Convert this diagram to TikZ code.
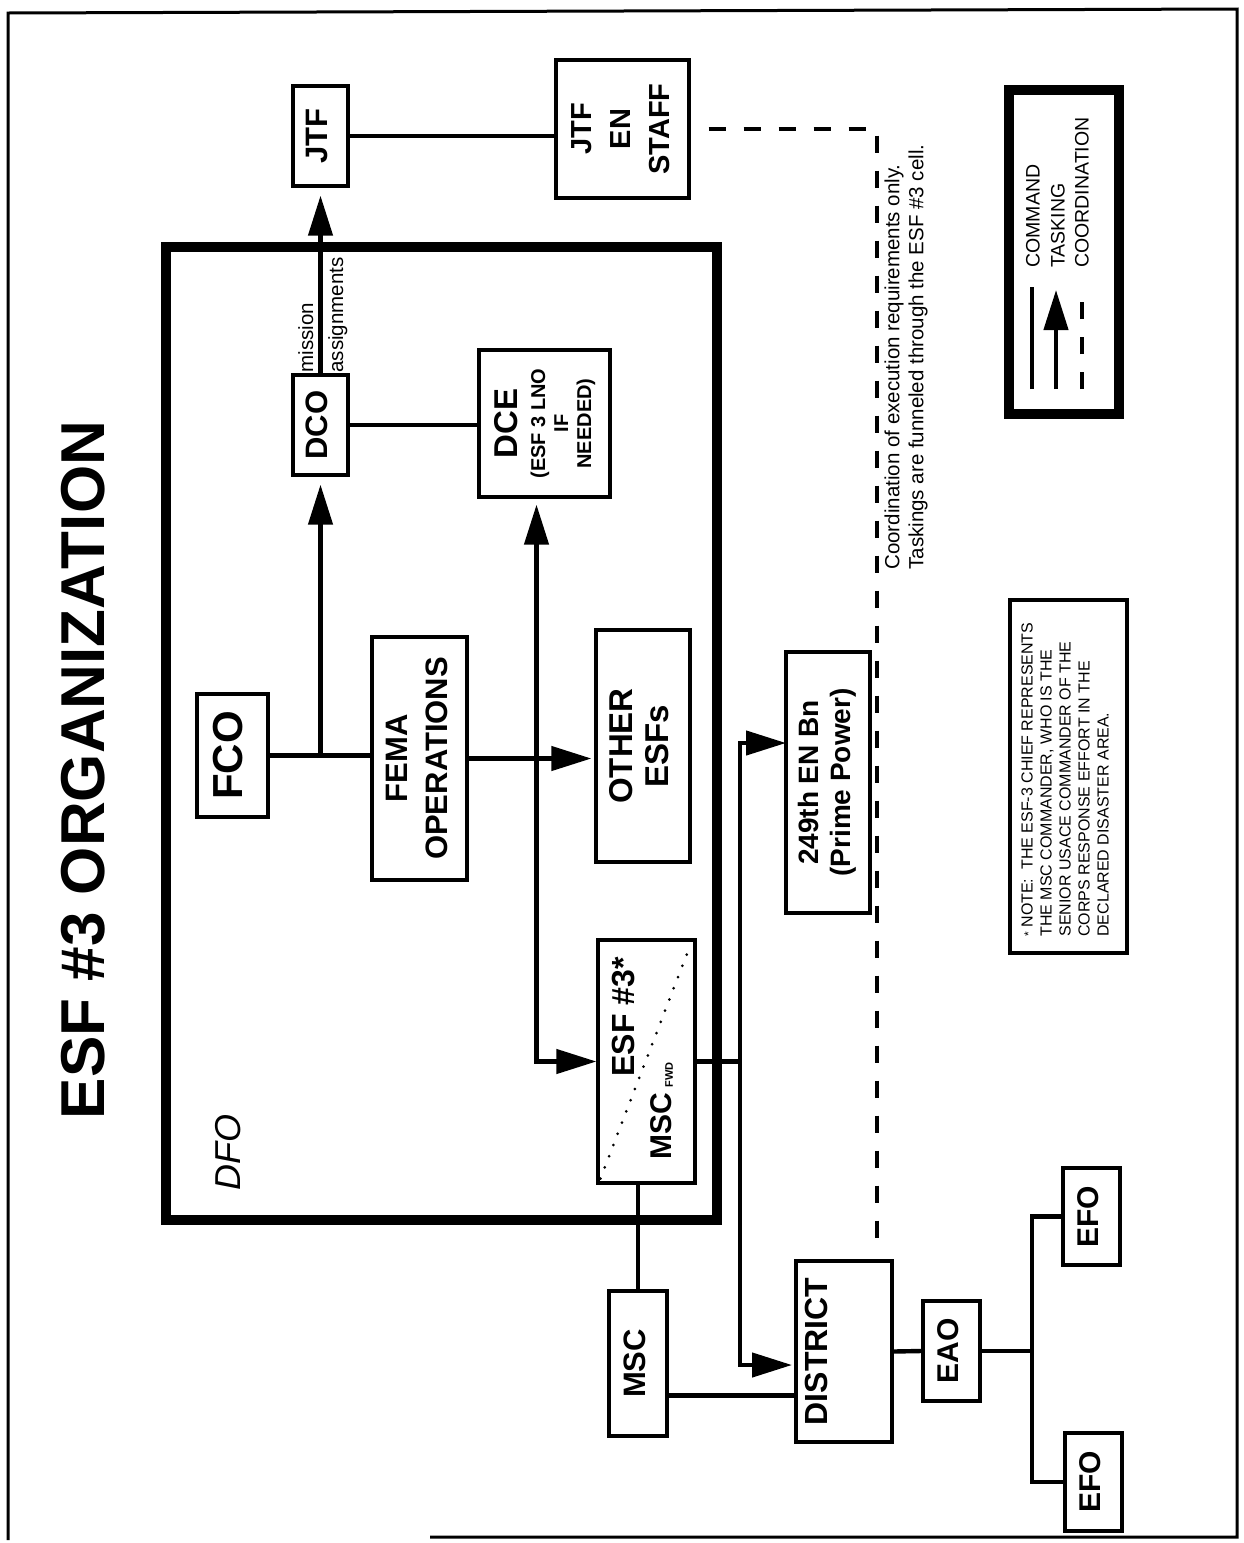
\documentclass[tikz,border=0pt]{standalone}
\usepackage{fontspec}
\setmainfont{Liberation Sans}
\usepackage{graphicx}
\usetikzlibrary{arrows.meta}

\newcommand{\fsz}[2]{\fontsize{#1}{#2}\selectfont}
\newcommand{\vt}[1]{\rotatebox{90}{\begin{tabular}{@{}c@{}}#1\end{tabular}}}
\tikzset{
  box/.style={draw, line width=1.6pt, inner sep=0pt},
  cmd/.style={line width=2.2pt},
  task/.style={line width=2.2pt, -{Triangle[length=20pt,width=12pt]}},
  tasktwo/.style={line width=2.2pt, {Triangle[length=20pt,width=12pt]}-{Triangle[length=20pt,width=12pt]}},
  coordline/.style={line width=2.4pt, dash pattern=on 8.5pt off 9pt},
  vlabel/.style={rotate=90, inner sep=0pt}
}

\begin{document}
\begin{tikzpicture}[x=0.5pt, y=-0.5pt]
  \useasboundingbox (0,0) rectangle (1243,1543);
  \draw[line width=1.5pt] (430,1537) -- (1237,1537) -- (1237,9) -- (8,13) -- (8,1540);

  \node[vlabel, font=\bfseries\fsz{31}{36}] (title) at (83,770) {ESF \#3 ORGANIZATION};

  % DFO frame
  \node[draw, line width=4.75pt, minimum width=275.5pt, minimum height=486.5pt] (dfo) at (441.5,733.5) {};
  \node[vlabel, font=\itshape\fsz{18}{20}] (dfolbl) at (228,1152) {DFO};

  \node[box, minimum width=27.5pt, minimum height=50pt, font=\bfseries\fsz{15.5}{18}] (jtf) at (320.5,136) {\vt{JTF}};
  \node[box, minimum width=66.5pt, minimum height=69pt, font=\bfseries\fsz{14.5}{19.5}] (staff) at (622.5,129) {\vt{JTF\\EN\\STAFF}};
  \node[box, minimum width=27.5pt, minimum height=50pt, font=\bfseries\fsz{15.5}{18}] (dco) at (320.5,425) {\vt{DCO}};
  \node[box, minimum width=65.5pt, minimum height=73.5pt, font=\bfseries\fsz{16.5}{19}] (dce) at (544.5,423.5)
    {\vt{DCE\\{\fsz{10}{11.5}\begin{tabular}{@{}c@{}}(ESF 3 LNO\\IF\\NEEDED)\end{tabular}}}};
  \node[box, minimum width=35.5pt, minimum height=61.5pt, font=\bfseries\fsz{21}{24}] (fco) at (232.5,755.5) {\vt{FCO}};
  \node[box, minimum width=47.5pt, minimum height=121.5pt, font=\bfseries\fsz{15.5}{20}] (fema) at (419.5,758.5) {\vt{FEMA\\OPERATIONS}};
  \node[box, minimum width=47pt, minimum height=116pt, font=\bfseries\fsz{16.5}{18}] (other) at (643,746) {\vt{OTHER\\ESFs}};
  \node[box, minimum width=48.5pt, minimum height=121.5pt] (esf) at (646.5,1061.5) {};
  \node[vlabel, font=\bfseries\fsz{16}{18}] (esflbl) at (624,1017) {ESF \#3*};
  \node[vlabel, font=\bfseries\fsz{15}{18}] (msclbl) at (662,1111) {MSC\,{\fsz{5.5}{6}\raisebox{-0.5pt}{FWD}}};
  \draw[line width=1.5pt, line cap=round, dash pattern=on 0pt off 6pt] ([shift={(2pt,3pt)}]esf.south west) -- ([shift={(-3pt,-3pt)}]esf.north east);

  \node[box, minimum width=42pt, minimum height=130.5pt, font=\bfseries\fsz{14}{16}] (bn) at (828,782.5) {\vt{249th EN Bn\\(Prime Power)}};
  \node[box, minimum width=29pt, minimum height=72.5pt, font=\bfseries\fsz{15.5}{18}] (msc) at (638,1363.5) {\vt{MSC}};
  \node[box, minimum width=48pt, minimum height=90.5pt, font=\bfseries\fsz{16}{18}] (district) at (844,1351.5) {\vt{DISTRICT}\hspace*{24pt}};
  \node[box, minimum width=28.5pt, minimum height=50pt, font=\bfseries\fsz{15}{18}] (eao) at (951.5,1351) {\vt{EAO}};
  \node[box, minimum width=28.5pt, minimum height=48.5pt, font=\bfseries\fsz{15}{18}] (efo1) at (1091.5,1216.5) {\vt{EFO}};
  \node[box, minimum width=28.5pt, minimum height=49pt, font=\bfseries\fsz{15}{18}] (efo2) at (1093.5,1482) {\vt{EFO}};

  % connectors
  \draw[cmd] (fco.east) -- (fco.east -| fema.west);
  \draw[task, shorten >=1.5pt] (fema.east) -- (fema.east -| other.west);
  \draw[task, shorten >=4pt] (dco.south |- fco.east) -- (dco.south);
  \draw[task, shorten >=4pt] (dco.north) -- (jtf.south);
  \node[vlabel, anchor=base west, font=\fsz{10.25}{12}] (mis) at (313,373) {mission};
  \node[vlabel, anchor=base west, font=\fsz{10.25}{12}] (asg) at (343,373) {assignments};
  \draw[cmd] (jtf.east) -- (jtf.east -| staff.west);
  \draw[cmd] (dco.east) -- (dco.east -| dce.west);
  \draw[tasktwo, shorten <=3pt] ([xshift=-4pt]dce.south) |- (esf.west);

  \coordinate (jn) at (740,1061.5);
  \coordinate (bnin) at (786,743);
  \coordinate (distin) at (796,1365);
  \draw[cmd] (esf.east) -- (jn);
  \draw[task] (jn) |- (bnin);
  \draw[task, shorten >=2pt] (jn) |- (distin);
  \draw[cmd] (msc.north) -- (msc.north |- esf.south);
  \draw[cmd] (msc.east) ++(0,32) coordinate (m1) -- (m1 -| district.west);
  \coordinate (bus) at (1032,1351);
  \draw[cmd] (district.east) -- (eao.west);
  \draw[cmd] (eao.east) -- (bus);
  \draw[cmd] (efo1.west) -| (bus) |- (efo2.west);

  % coordination
  \coordinate (cc) at (877,1248);
  \draw[coordline, dash phase=8.5pt] (staff.east) -| (cc);
  \node[vlabel, anchor=north west, align=left, font=\fsz{10.25}{12}] (cnote) at (884,570)
    {Coordination of execution requirements only.\\Taskings are funneled through the ESF \#3 cell.};

  % legend
  \node[draw, line width=5pt, minimum width=55pt, minimum height=162pt] (legend) at (1064,252) {};
  \draw[cmd] (1032,389) -- (1032,287);
  \draw[task] (1056,389) -- (1056,290);
  \draw[coordline] (1082,389) -- (1082,300);
  \node[vlabel, anchor=west, font=\fsz{9.75}{12}] (lcmd) at (1033,268) {COMMAND};
  \node[vlabel, anchor=west, font=\fsz{9.75}{12}] (ltask) at (1058,268) {TASKING};
  \node[vlabel, anchor=west, font=\fsz{9.75}{12}] (lcoord) at (1082,268) {COORDINATION};

  % note
  \node[box, minimum width=58.5pt, minimum height=176.5pt] (note) at (1068.5,776.5) {};
  \node[vlabel, anchor=north west, align=left, font=\fsz{8}{9.5}] (notetxt) at (1021,937)
    {{\fsz{6}{7}*}\ NOTE:\ \ THE ESF-3 CHIEF REPRESENTS\\THE MSC COMMANDER, WHO IS THE\\SENIOR USACE COMMANDER OF THE\\CORPS RESPONSE EFFORT IN THE\\DECLARED DISASTER AREA.};
\end{tikzpicture}
\end{document}
